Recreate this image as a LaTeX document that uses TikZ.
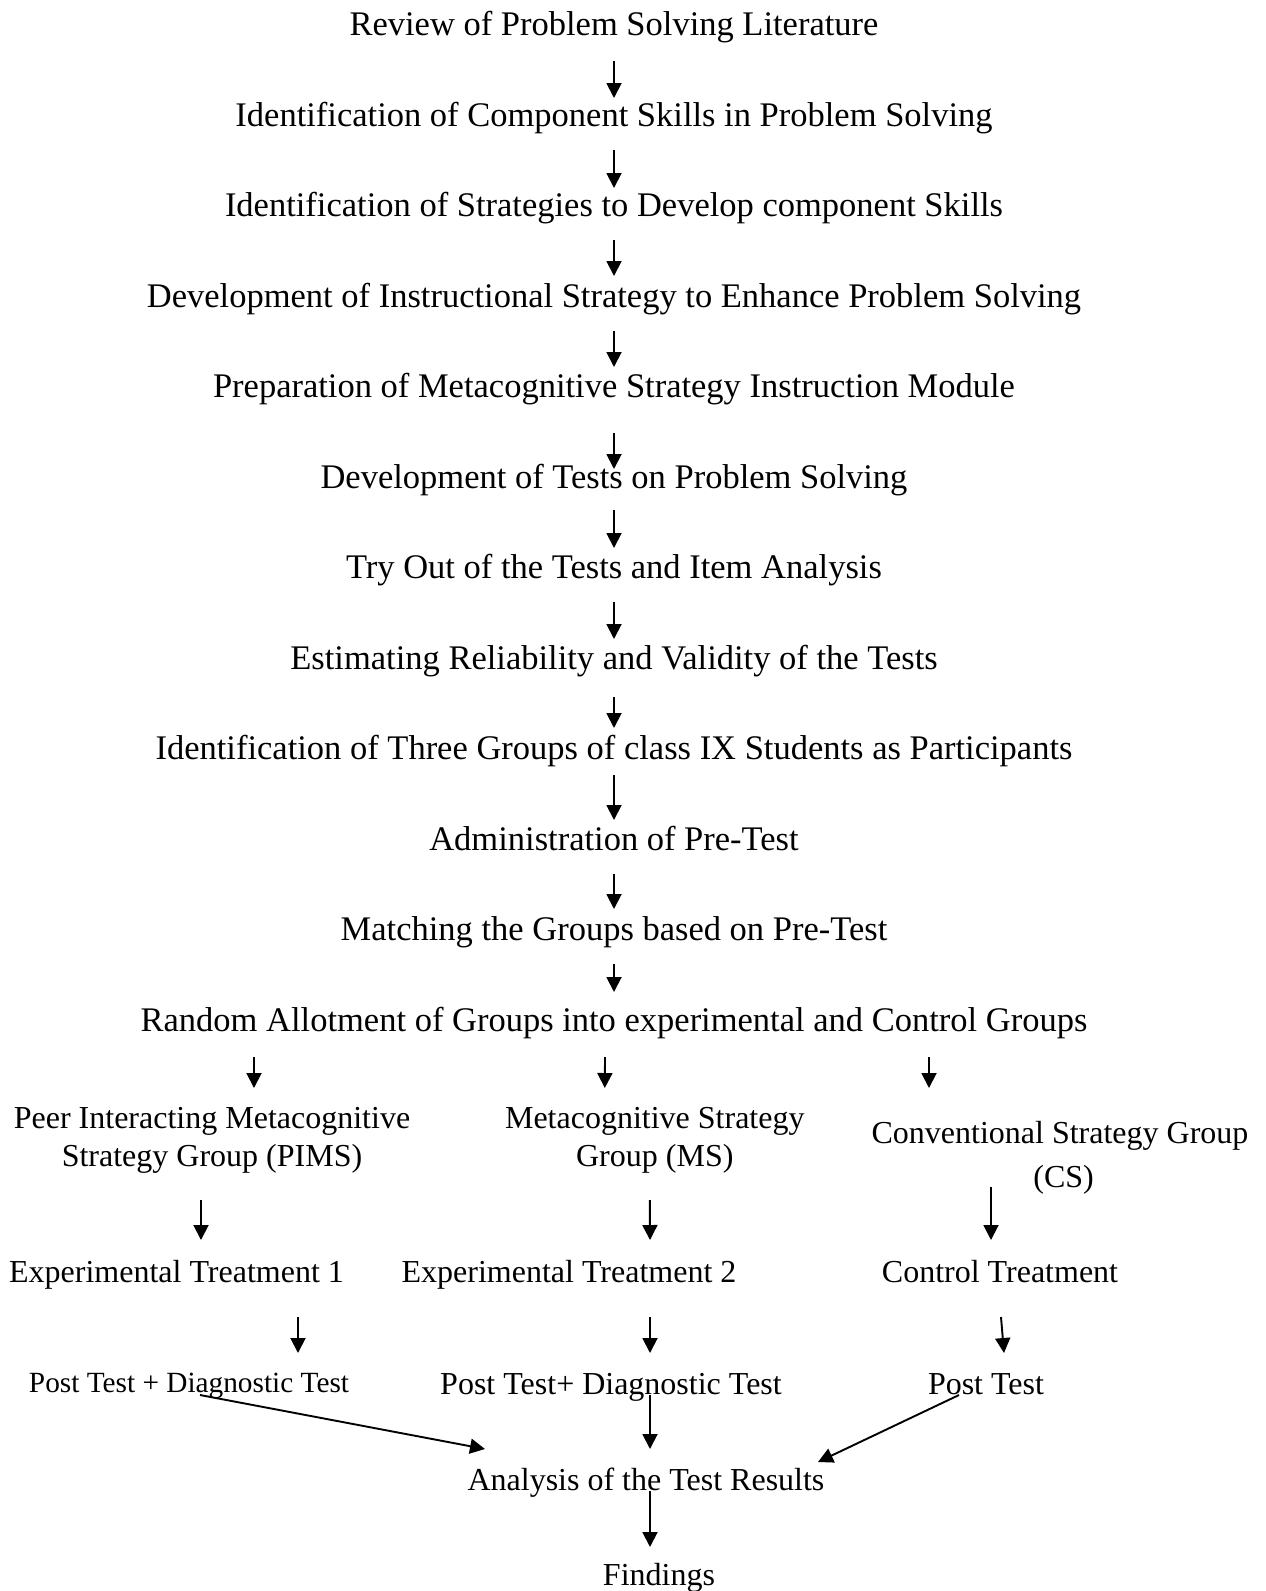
\documentclass[tikz,border=0pt]{standalone}
\usepackage{fontspec}
\setmainfont{Liberation Serif}
\usetikzlibrary{arrows.meta}
\begin{document}
\begin{tikzpicture}[x=1pt,y=-1pt,
  every node/.style={inner sep=0pt, anchor=base},
  mainlbl/.style={font=\fontsize{34.5}{40}\selectfont},
  sublbl/.style={font=\fontsize{32}{38}\selectfont},
  smalllbl/.style={font=\fontsize{29.3}{35}\selectfont},
  arr/.style={-{Triangle[length=15pt,width=15pt]}, line width=1.9pt}]
\useasboundingbox (0,0) rectangle (1266,1591);

% main sequence of steps
\node[mainlbl] (s1)  at (614,35.5)  {Review of Problem Solving Literature};
\node[mainlbl] (s2)  at (614,126)   {Identification of Component Skills in Problem Solving};
\node[mainlbl] (s3)  at (614,216.5) {Identification of Strategies to Develop component Skills};
\node[mainlbl] (s4)  at (614,307)   {Development of Instructional Strategy to Enhance Problem Solving};
\node[mainlbl] (s5)  at (614,397.5) {Preparation of Metacognitive Strategy Instruction Module};
\node[mainlbl] (s6)  at (614,488)   {Development of Tests on Problem Solving};
\node[mainlbl] (s7)  at (614,578.5) {Try Out of the Tests and Item Analysis};
\node[mainlbl] (s8)  at (614,669)   {Estimating Reliability and Validity of the Tests};
\node[mainlbl] (s9)  at (614,759.5) {Identification of Three Groups of class IX Students as Participants};
\node[mainlbl] (s10) at (614,850)   {Administration of Pre-Test};
\node[mainlbl] (s11) at (614,940.5) {Matching the Groups based on Pre-Test};
\node[mainlbl] (s12) at (614,1031)  {Random Allotment of Groups into experimental and Control Groups};

\draw[arr] ([shift={(0,25.5)}]s1.base)  -- ([shift={(0,-28)}]s2.base);
\draw[arr] ([shift={(0,24)}]s2.base)    -- ([shift={(0,-28.5)}]s3.base);
\draw[arr] ([shift={(0,23.5)}]s3.base)  -- ([shift={(0,-31)}]s4.base);
\draw[arr] ([shift={(0,24)}]s4.base)    -- ([shift={(0,-30.5)}]s5.base);
\draw[arr] ([shift={(0,35.5)}]s5.base)  -- ([shift={(0,-19)}]s6.base);
\draw[arr] ([shift={(0,22)}]s6.base)    -- ([shift={(0,-30.5)}]s7.base);
\draw[arr] ([shift={(0,23.5)}]s7.base)  -- ([shift={(0,-30)}]s8.base);
\draw[arr] ([shift={(0,28)}]s8.base)    -- ([shift={(0,-31.5)}]s9.base);
\draw[arr] ([shift={(0,15.5)}]s9.base)  -- ([shift={(0,-30)}]s10.base);
\draw[arr] ([shift={(0,24)}]s10.base)   -- ([shift={(0,-31.5)}]s11.base);
\draw[arr] ([shift={(0,23.5)}]s11.base) -- ([shift={(0,-39)}]s12.base);

% the three groups
\node[sublbl] (gA1) at (212,1128)    {Peer Interacting Metacognitive};
\node[sublbl] (gA2) at (212,1166)    {Strategy Group (PIMS)};
\node[sublbl] (gB1) at (654.8,1128)  {Metacognitive Strategy};
\node[sublbl] (gB2) at (654.8,1166)  {Group (MS)};
\node[sublbl] (gC1) at (1060,1143)   {Conventional Strategy Group};
\node[sublbl] (gC2) at (1063.6,1187) {(CS)};

\draw[arr] ([shift={(-360,26)}]s12.base) -- ([shift={(42,-40)}]gA1.base);
\draw[arr] ([shift={(-9,26)}]s12.base)   -- ([shift={(-50,-40)}]gB1.base);
\draw[arr] ([shift={(315,26)}]s12.base)  -- ([shift={(-131,-55)}]gC1.base);

% treatments
\node[sublbl] (tA) at (176.5,1282) {Experimental Treatment 1};
\node[sublbl] (tB) at (569,1282)   {Experimental Treatment 2};
\node[sublbl] (tC) at (1000,1282)  {Control Treatment};

\draw[arr] ([shift={(-11,34)}]gA2.base)   -- ([shift={(24.5,-42)}]tA.base);
\draw[arr] ([shift={(-5,34)}]gB2.base)    -- ([shift={(81,-42)}]tB.base);
\draw[arr] ([shift={(-72.6,0)}]gC2.base)  -- ([shift={(-9,-42)}]tC.base);

% tests after treatment
\node[smalllbl] (pA) at (189,1392) {Post Test + Diagnostic Test};
\node[sublbl]   (pB) at (611,1394) {Post Test+ Diagnostic Test};
\node[sublbl]   (pC) at (986,1394) {Post Test};

\draw[arr] ([shift={(121.5,35)}]tA.base) -- ([shift={(109,-39)}]pA.base);
\draw[arr] ([shift={(81,35)}]tB.base)    -- ([shift={(39,-41)}]pB.base);
\draw[arr] ([shift={(1,35)}]tC.base)     -- ([shift={(18,-41)}]pC.base);

% analysis and findings
\node[sublbl] (an) at (646,1490) {Analysis of the Test Results};
\node[sublbl] (fi) at (659,1585) {Findings};

\draw[arr] ([shift={(11,3)}]pA.base)  -- ([shift={(-161,-41)}]an.base);
\draw[arr] ([shift={(39,1)}]pB.base)  -- ([shift={(4,-41)}]an.base);
\draw[arr] ([shift={(-27,1)}]pC.base) -- ([shift={(172,-28)}]an.base);
\draw[arr] ([shift={(4,1)}]an.base)   -- ([shift={(-9,-38)}]fi.base);
\end{tikzpicture}
\end{document}
